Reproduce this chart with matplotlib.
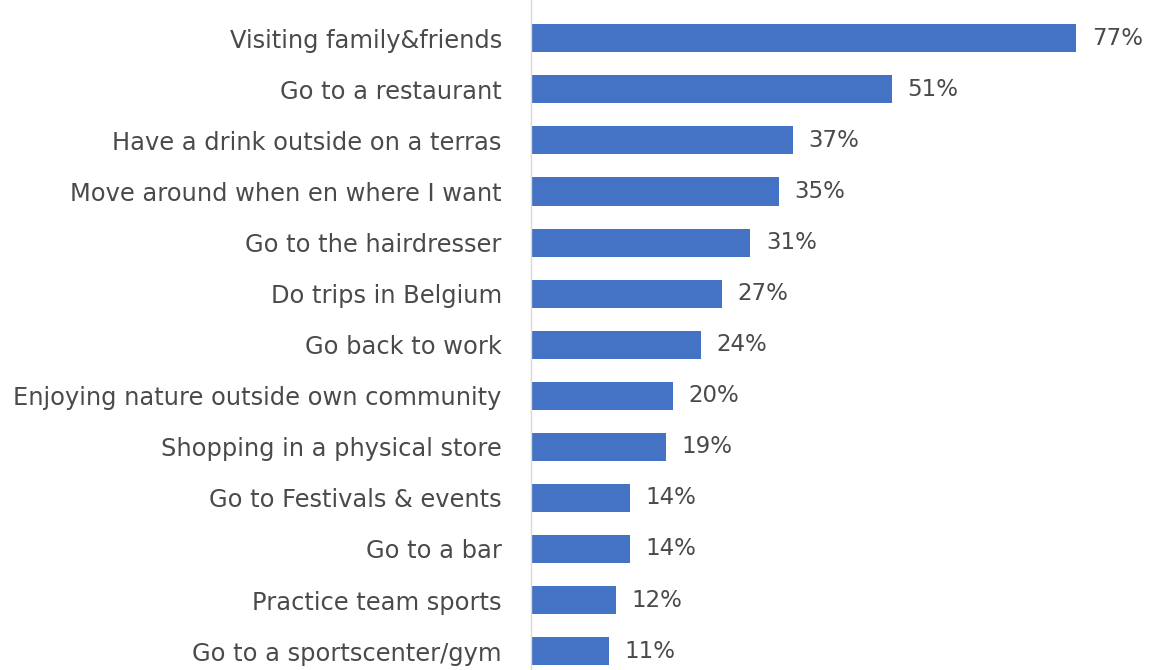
import matplotlib
matplotlib.use("Agg")
import matplotlib.pyplot as plt

activities = ["Visiting family&friends", "Go to a restaurant", "Have a drink outside on a terras",
              "Move around when en where I want", "Go to the hairdresser", "Do trips in Belgium",
              "Go back to work", "Enjoying nature outside own community", "Shopping in a physical store",
              "Go to Festivals & events", "Go to a bar", "Practice team sports", "Go to a sportscenter/gym"]
percentages = [77, 51, 37, 35, 31, 27, 24, 20, 19, 14, 14, 12, 11]

plt.rcParams['font.family'] = ['DejaVu Sans']
text_color = '#4a4a4a'

fig = plt.figure(figsize=(11.5, 6.7), dpi=100)
ax = fig.add_axes([531 / 1150, 0, 1 - 531 / 1150 - 0.015, 1])

y = list(range(len(activities)))
bars = ax.barh(y, percentages, height=0.55, color='#4472C4')
for b, v in zip(bars, percentages):
    ax.text(b.get_width() + 2.2, b.get_y() + b.get_height() / 2, f"{v}%",
            va='center', ha='left', fontsize=16.5, color=text_color)

ax.set_yticks(y)
ax.set_yticklabels(activities, fontsize=17.4, color=text_color)
ax.tick_params(axis='y', length=0, pad=21)
ax.set_xticks([])
ax.set_xlim(0, 85)
ax.set_ylim(12.37, -0.75)
for s in ['top', 'right', 'bottom']:
    ax.spines[s].set_visible(False)
ax.spines['left'].set_color('#d9d9d9')
ax.spines['left'].set_linewidth(1)

fig.savefig("out.png", dpi=100)
